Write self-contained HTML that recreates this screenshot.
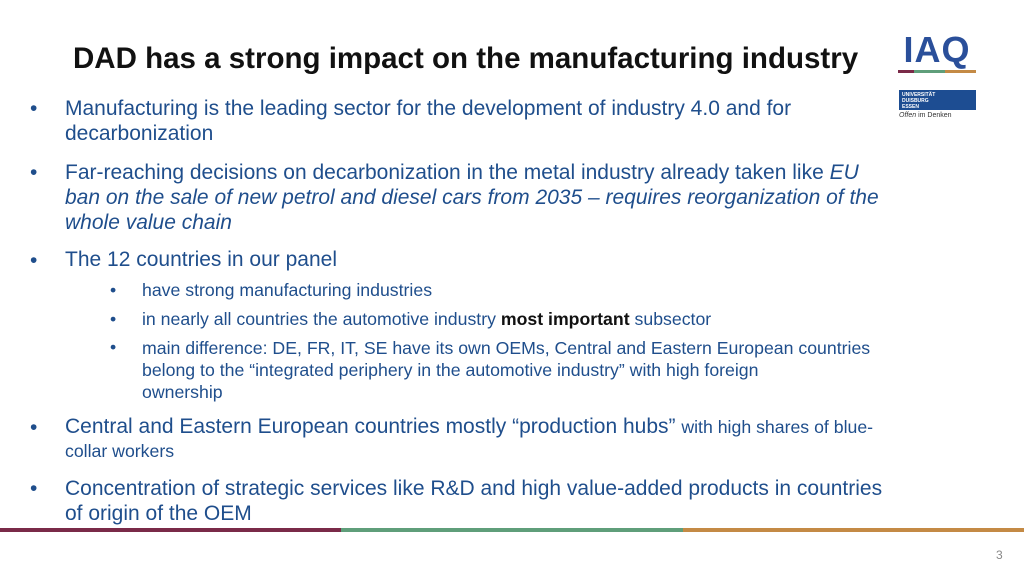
<!DOCTYPE html>
<html><head><meta charset="utf-8"><style>
body{margin:0;width:1024px;height:576px;position:relative;background:#fff;font-family:"Liberation Sans",sans-serif;overflow:hidden}
.t{position:absolute;white-space:nowrap;color:#1f4e8c}
.m{font-size:21px}
.s{font-size:17.7px}
.b{position:absolute;color:#1f4e8c}
</style></head><body>
<div class="t" style="left:73px;top:42px;font-size:29.5px;font-weight:bold;color:#111">DAD has a strong impact on the manufacturing industry</div>
<div style="position:absolute;left:898px;top:32px;width:78px;height:42px">
<div style="font-size:36px;font-weight:bold;color:#2a4f9a;letter-spacing:1px;line-height:36px;text-align:center">IAQ</div>
<div style="display:flex;height:3px;margin-top:2px"><div style="flex:1;background:#7a2a48"></div><div style="flex:2;background:#5f9e7a"></div><div style="flex:2;background:#c48a45"></div></div>
</div>
<div style="position:absolute;left:899px;top:90px;width:77px;height:20px;background:#1d4d92;color:#fff;font-size:5px;font-weight:bold;line-height:6px;padding-left:3px;box-sizing:border-box;padding-top:2px">UNIVERSITÄT<br>DUISBURG<br>ESSEN</div>
<div class="t" style="left:899px;top:112px;font-size:7px;color:#333"><i>Offen</i> im Denken</div>

<div class="b m" style="left:30px;top:97px">•</div>
<div class="t m" style="left:65px;top:96px;line-height:25px">Manufacturing is the leading sector for the development of industry 4.0 and for<br>decarbonization</div>
<div class="b m" style="left:30px;top:161px">•</div>
<div class="t m" style="left:65px;top:160px;line-height:25px">Far-reaching decisions on decarbonization in the metal industry already taken like <i>EU</i><br><i>ban on the sale of new petrol and diesel cars from 2035 – requires reorganization of the</i><br><i>whole value chain</i></div>
<div class="b m" style="left:30px;top:249px">•</div>
<div class="t m" style="left:65px;top:248px">The 12 countries in our panel</div>
<div class="b s" style="left:110px;top:280px">•</div>
<div class="t s" style="left:142px;top:280px">have strong manufacturing industries</div>
<div class="b s" style="left:110px;top:309px">•</div>
<div class="t s" style="left:142px;top:309px">in nearly all countries the automotive industry <b style="color:#111">most important</b> subsector</div>
<div class="b s" style="left:110px;top:337px">•</div>
<div class="t s" style="left:142px;top:337px;line-height:22px">main difference: DE, FR, IT, SE have its own OEMs, Central and Eastern European countries<br>belong to the  “integrated periphery in the automotive industry” with high foreign<br>ownership</div>
<div class="b m" style="left:30px;top:416px">•</div>
<div class="t m" style="left:65px;top:415px;line-height:24px">Central and Eastern European countries mostly “production hubs” <span style="font-size:17.7px">with high shares of blue-</span><br><span style="font-size:17.7px">collar workers</span></div>
<div class="b m" style="left:30px;top:477px">•</div>
<div class="t m" style="left:65px;top:476px;line-height:25px">Concentration of strategic services like R&amp;D and high value-added products in countries<br>of origin of the OEM</div>

<div style="position:absolute;left:0;top:528px;width:1024px;height:4px;display:flex">
<div style="flex:1;background:#7a2a48"></div><div style="flex:1;background:#5f9e7a"></div><div style="flex:1;background:#c48a45"></div></div>
<div class="t" style="left:996px;top:548px;font-size:12px;color:#888">3</div>
</body></html>
